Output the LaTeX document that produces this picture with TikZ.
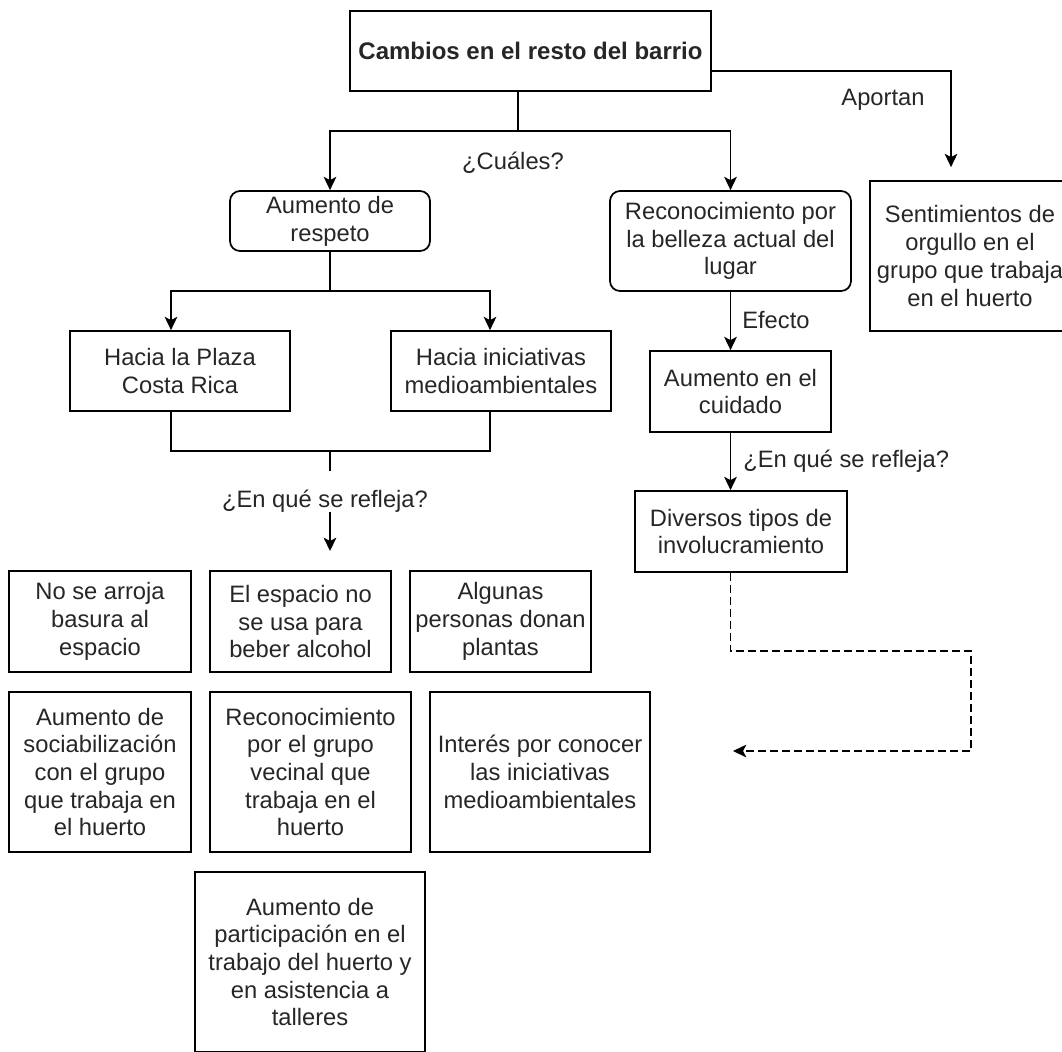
\documentclass[tikz,border=0pt]{standalone}
\usepackage{fontspec}
\setmainfont{Liberation Sans}
\usetikzlibrary{arrows.meta}

\begin{document}
\begin{tikzpicture}[x=0.75pt, y=-0.75pt,
  txt/.style={font=\fontsize{17.8}{20.8}\selectfont, text=black!85},
  box/.style={txt, draw, line width=1.3pt, align=center, inner sep=0pt},
  roundbox/.style={box, rounded corners=7.5pt},
  sz/.style 2 args={minimum width=#1*0.75pt, minimum height=#2*0.75pt},
  lbl/.style={txt, inner sep=0pt},
  conn/.style={line width=1.3pt},
  arr/.style={conn, -{Stealth[length=10pt, width=9.5pt, inset=2.5pt]}},
]
\useasboundingbox (0,0) rectangle (1062,1051);

% Main box
\node[box, sz={361}{80}, font={\fontsize{18}{22}\selectfont\bfseries}] (top) at (530.5,51) {Cambios en el resto del barrio};

% Second level
\node[roundbox, sz={200}{60}] (resp) at (330,221) {Aumento de\\respeto};
\node[roundbox, sz={241}{100}] (recon) at (730.5,241) {Reconocimiento por\\la belleza actual del\\lugar};
\node[box, sz={200}{150}] (orgullo) at (970,256) {Sentimientos de\\orgullo en el\\grupo que trabaja\\en el huerto};

% Respect branch
\node[box, sz={220}{80}] (plaza) at (180,371) {Hacia la Plaza\\Costa Rica};
\node[box, sz={220}{80}] (inic) at (501,371) {Hacia iniciativas\\medioambientales};

% Care branch
\node[box, sz={181}{81}] (cuidado) at (740.5,391.5) {Aumento en el\\cuidado};
\node[box, sz={212}{81}] (invol) at (741,531.5) {Diversos tipos de\\involucramiento};

% Bottom boxes
\node[box, sz={182}{101}] (basura) at (100,621.5) {No se arroja\\basura al\\espacio};
\node[box, sz={181}{101}] (alcohol) at (300.5,621.5) {El espacio no\\se usa para\\beber alcohol};
\node[box, sz={181}{101}] (plantas) at (500.5,621.5) {Algunas\\personas donan\\plantas};
\node[box, sz={182}{160}] (sociab) at (100,772) {Aumento de\\sociabilización\\con el grupo\\que trabaja en\\el huerto};
\node[box, sz={201}{160}] (vecinal) at (310.5,772) {Reconocimiento\\por el grupo\\vecinal que\\trabaja en el\\huerto};
\node[box, sz={220}{160}] (interes) at (540,772) {Interés por conocer\\las iniciativas\\medioambientales};
\node[box, sz={230}{180}] (particip) at (310,962) {Aumento de\\participación en el\\trabajo del huerto y\\en asistencia a\\talleres};

% Edge labels
\node[lbl] (cuales) at (513,163) {¿Cuáles?};
\node[lbl] (aportan) at (883,100) {Aportan};
\node[lbl, anchor=west] (efecto) at (742,320) {Efecto};
\node[lbl, anchor=west] (reflejader) at (743,461) {¿En qué se refleja?};
\node[lbl] (reflejaizq) at (325,501) {¿En qué se refleja?};

% Junctions
\coordinate (fork1) at (518,131);
\coordinate (aport) at (951,71);
\coordinate (fork2) at (330,291);
\coordinate (jl) at (171,291);
\coordinate (jr) at (490,291);
\coordinate (merge) at (330,451);
\coordinate (stub) at (330,471);
\coordinate (dropstart) at (330,512);
\coordinate (droptip) at (330,551);
\coordinate (dashcorner) at (971,651);
\coordinate (dashtip) at (733,751);

% Edges
\draw[conn] (top.south -| fork1) -- (fork1);
\draw[arr] (fork1) -| (resp);
\draw[arr] (fork1) -| (recon);
\draw[arr, shorten >=9.75pt] (top.east |- aport) -| (orgullo.north -| aport);

\draw[conn] (resp) -- (fork2);
\draw[arr] (fork2) -| (plaza.north -| jl);
\draw[arr] (fork2) -| (inic.north -| jr);
\draw[conn] (plaza.south -| jl) |- (merge) -| (inic.south -| jr);
\draw[conn] (merge) -- (stub);
\draw[arr] (dropstart) -- (droptip);

\draw[arr] (recon) -- (recon.south |- cuidado.north);
\draw[arr] (cuidado.south -| recon.south) -- (invol.north -| recon.south);
\draw[arr, line width=1.1pt, dash pattern=on 6pt off 3pt] (invol.south -| recon.south) |- (dashcorner) |- (dashtip);

\end{tikzpicture}
\end{document}
